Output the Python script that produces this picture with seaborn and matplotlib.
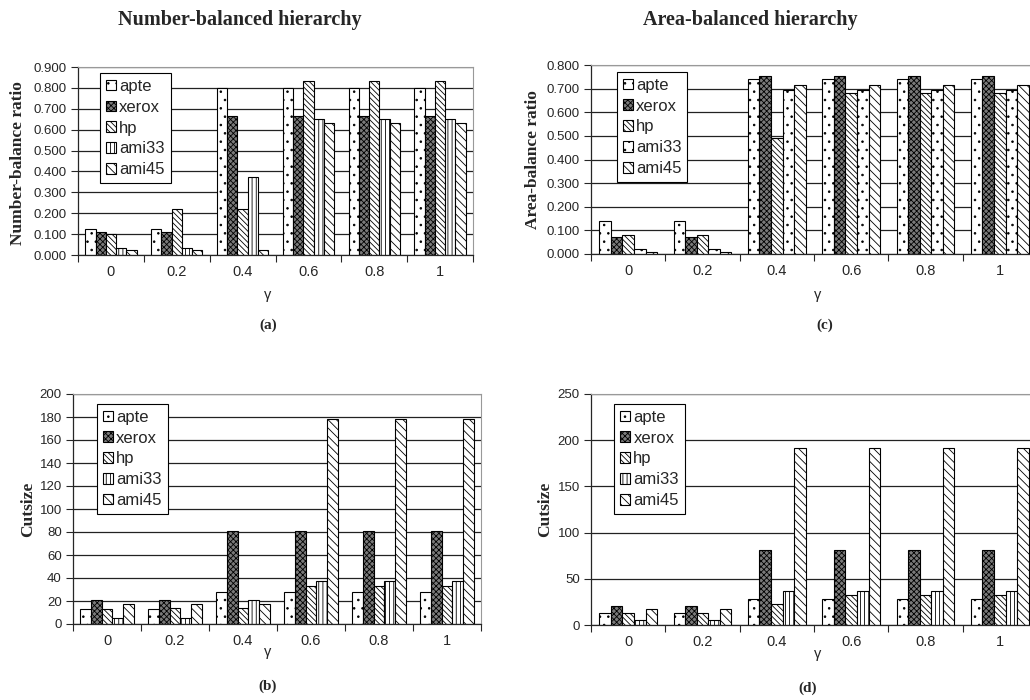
import numpy as np
import pandas as pd
import matplotlib
matplotlib.use('Agg')
import matplotlib.pyplot as plt
import seaborn as sns

sns.set_style('ticks')
plt.rcParams['font.family'] = ['Liberation Sans', 'DejaVu Sans']
plt.rcParams['hatch.linewidth'] = 0.6

gammas = ['0', '0.2', '0.4', '0.6', '0.8', '1']
circuits = ['apte', 'xerox', 'hp', 'ami33', 'ami45']

# (a) number-balanced hierarchy, number-balance ratio (one list per circuit)
nb_ratio_apte = [0.125, 0.125, 0.800, 0.800, 0.800, 0.800]
nb_ratio_xerox = [0.110, 0.110, 0.667, 0.667, 0.667, 0.667]
nb_ratio_hp = [0.100, 0.222, 0.222, 0.833, 0.833, 0.833]
nb_ratio_ami33 = [0.033, 0.033, 0.375, 0.650, 0.650, 0.650]
nb_ratio_ami45 = [0.022, 0.022, 0.022, 0.633, 0.633, 0.633]

# (b) number-balanced hierarchy, cutsize
nb_cut_apte = [13, 13, 28, 28, 28, 28]
nb_cut_xerox = [21, 21, 81, 81, 81, 81]
nb_cut_hp = [13, 14, 14, 33, 33, 33]
nb_cut_ami33 = [5, 5, 21, 37, 37, 37]
nb_cut_ami45 = [17, 17, 17, 178, 178, 178]

# (c) area-balanced hierarchy, area-balance ratio
ab_ratio_apte = [0.141, 0.141, 0.739, 0.739, 0.739, 0.739]
ab_ratio_xerox = [0.074, 0.074, 0.755, 0.755, 0.755, 0.755]
ab_ratio_hp = [0.079, 0.079, 0.490, 0.683, 0.683, 0.683]
ab_ratio_ami33 = [0.020, 0.020, 0.695, 0.695, 0.695, 0.695]
ab_ratio_ami45 = [0.007, 0.007, 0.714, 0.714, 0.714, 0.714]

# (d) area-balanced hierarchy, cutsize
ab_cut_apte = [13, 13, 28, 28, 28, 28]
ab_cut_xerox = [21, 21, 81, 81, 81, 81]
ab_cut_hp = [13, 13, 23, 33, 33, 33]
ab_cut_ami33 = [5, 5, 37, 37, 37, 37]
ab_cut_ami45 = [17, 17, 192, 192, 192, 192]


def long_df(series):
    rows = []
    for c, vals in zip(circuits, series):
        for g, v in zip(gammas, vals):
            rows.append((g, c, v))
    return pd.DataFrame(rows, columns=['gamma', 'circuit', 'value'])


dots = ('white', '..')
styles = {
    'apte': dots,
    'xerox': ('#7a7a7a', 'xxxxxx'),
    'hp': ('white', '\\' * 6),
    'ami33': ('white', '||||'),
    'ami45': ('white', '\\' * 4),
}

serif = ['Liberation Serif', 'DejaVu Serif']


def panel(rect, series, ymax, ystep, fmt, anchor, ami33_style=None):
    ax = fig.add_axes(rect)
    df = long_df(series)
    sns.barplot(data=df, x='gamma', y='value', hue='circuit', order=gammas,
                hue_order=circuits, width=0.78, palette=['white'] * 5,
                edgecolor='black', linewidth=0.8, legend=False, ax=ax)
    for c, cont in zip(circuits, ax.containers):
        fc, hatch = styles[c]
        if c == 'ami33' and ami33_style is not None:
            fc, hatch = ami33_style
        for p in cont.patches:
            p.set_facecolor(fc)
            p.set_hatch(hatch)
            p.set_edgecolor('black')
    ax.set_xlim(-0.5, 5.5)
    ax.set_ylim(0, ymax)
    ticks = np.arange(0, ymax + ystep / 2, ystep)
    ax.set_yticks(ticks)
    ax.set_yticklabels([fmt % v for v in ticks])
    ax.set_xticks(range(6))
    ax.set_xticklabels(gammas)
    ax.set_xticks(np.arange(-0.5, 6, 1), minor=True)
    ax.tick_params(axis='x', which='major', length=0, pad=7, labelsize=10.5)
    ax.tick_params(axis='x', which='minor', length=5, width=0.8, direction='out')
    ax.tick_params(axis='y', length=5, width=0.8, direction='out', pad=3, labelsize=9.5)
    ax.yaxis.grid(True, color='#222222', linewidth=0.9)
    ax.set_axisbelow(True)
    ax.set_xlabel('')
    ax.set_ylabel('')
    for s in ['top', 'right']:
        ax.spines[s].set_visible(True)
        ax.spines[s].set_color('#999999')
        ax.spines[s].set_linewidth(0.8)
    ax.spines['left'].set_linewidth(0.9)
    ax.spines['bottom'].set_linewidth(0.9)
    ax.legend(ax.containers, circuits, loc='upper left', bbox_to_anchor=anchor,
              borderaxespad=0, frameon=True, fancybox=False, edgecolor='black',
              framealpha=1, fontsize=12, handlelength=0.6, handleheight=0.6,
              handletextpad=0.2, labelspacing=0.35, borderpad=0.35)
    ax.get_legend().get_frame().set_linewidth(0.8)
    return ax


fig = plt.figure(figsize=(10.3, 7.0), dpi=100)

W, H = 1030.0, 700.0


def rect_px(left, top, right, bottom):
    return [left / W, 1 - bottom / H, (right - left) / W, (bottom - top) / H]


panel(rect_px(78, 67, 473, 255),
      [nb_ratio_apte, nb_ratio_xerox, nb_ratio_hp, nb_ratio_ami33, nb_ratio_ami45],
      0.9, 0.1, '%.3f', (0.056, 0.968))
panel(rect_px(591, 65, 1037, 254),
      [ab_ratio_apte, ab_ratio_xerox, ab_ratio_hp, ab_ratio_ami33, ab_ratio_ami45],
      0.8, 0.1, '%.3f', (0.058, 0.963), ami33_style=dots)
panel(rect_px(73, 394, 481, 624),
      [nb_cut_apte, nb_cut_xerox, nb_cut_hp, nb_cut_ami33, nb_cut_ami45],
      200, 20, '%d', (0.059, 0.957))
panel(rect_px(591, 394, 1037, 625),
      [ab_cut_apte, ab_cut_xerox, ab_cut_hp, ab_cut_ami33, ab_cut_ami45],
      250, 50, '%d', (0.052, 0.957))


def ftext(x, y, s, **kw):
    fig.text(x / W, 1 - y / H, s, ha='center', va='center', **kw)


ftext(240, 20, 'Number-balanced hierarchy', family=serif, fontweight='bold', fontsize=14.5)
ftext(750, 20, 'Area-balanced hierarchy', family=serif, fontweight='bold', fontsize=14.5)

ftext(18, 163, 'Number-balance ratio', family=serif, fontweight='bold', fontsize=12.5, rotation=90)
ftext(533, 160, 'Area-balance ratio', family=serif, fontweight='bold', fontsize=12.5, rotation=90)
ftext(28, 509, 'Cutsize', family=serif, fontweight='bold', fontsize=12.5, rotation=90)
ftext(545, 509, 'Cutsize', family=serif, fontweight='bold', fontsize=12.5, rotation=90)

ftext(268, 295, 'γ', fontsize=10.5)
ftext(818, 295, 'γ', fontsize=10.5)
ftext(268, 652, 'γ', fontsize=10.5)
ftext(818, 654, 'γ', fontsize=10.5)

ftext(268, 325, '(a)', family=serif, fontweight='bold', fontsize=11)
ftext(825, 325, '(c)', family=serif, fontweight='bold', fontsize=11)
ftext(268, 686, '(b)', family=serif, fontweight='bold', fontsize=11)
ftext(808, 688, '(d)', family=serif, fontweight='bold', fontsize=11)

fig.savefig('out.png', dpi=100)
